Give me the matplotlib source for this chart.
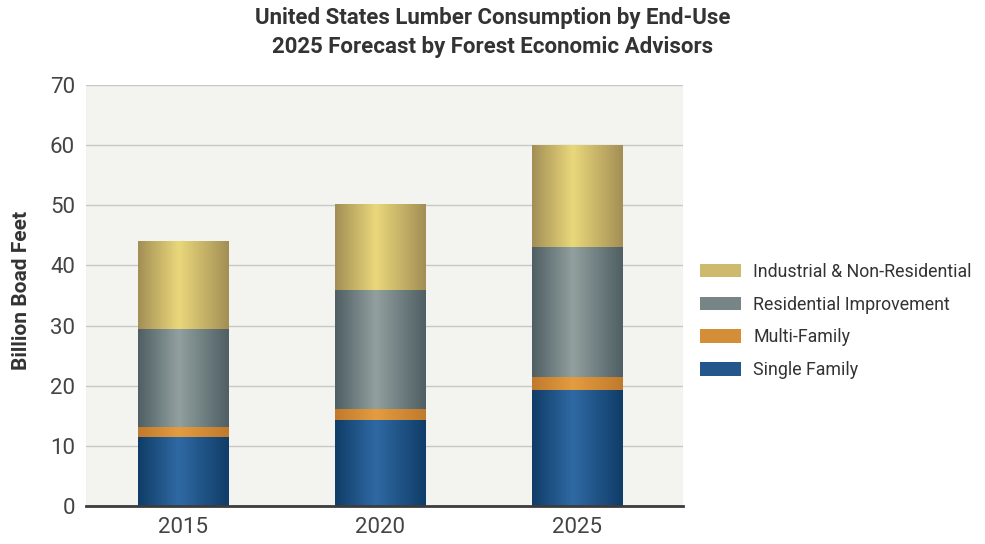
import numpy as np
import matplotlib.pyplot as plt
from matplotlib.colors import LinearSegmentedColormap
from matplotlib.patches import Patch

plt.rcParams['font.family'] = ['Roboto', 'DejaVu Sans']

years = ['2015', '2020', '2025']
single_family = [11.5, 14.3, 19.3]
multi_family = [1.7, 1.8, 2.2]
residential_improvement = [16.3, 19.8, 21.6]
industrial = [14.6, 14.3, 16.9]

series = [
    ('Single Family', single_family, ('#103d68', '#2f69a3')),
    ('Multi-Family', multi_family, ('#c07a2c', '#e39c40')),
    ('Residential Improvement', residential_improvement, ('#4f5f63', '#919f9e')),
    ('Industrial & Non-Residential', industrial, ('#a38f55', '#e9d77b')),
]

fig = plt.figure(figsize=(9.85, 5.44), dpi=100)
ax = fig.add_axes([86 / 985, 1 - 506 / 544, 597 / 985, 421 / 544])
ax.set_facecolor('#f3f3ef')

x = np.arange(len(years))
width = 0.457
# horizontal shading: dark edges, light band a bit left of centre
grad = np.concatenate([np.linspace(0, 1, 45), np.linspace(1, 0, 55)])[None, :]

bottom = np.zeros(len(years))
handles = []
for name, vals, (dark, light) in series:
    cmap = LinearSegmentedColormap.from_list(name, [dark, light])
    bars = ax.bar(x, vals, width, bottom=bottom, color='none', edgecolor='none', zorder=3)
    for b in bars:
        x0, y0 = b.get_x(), b.get_y()
        im = ax.imshow(grad, cmap=cmap, aspect='auto', zorder=3,
                       extent=[x0, x0 + b.get_width(), y0, y0 + b.get_height()])
        im.set_clip_path(b)
    bottom += np.array(vals)
    handles.append(Patch(facecolor=cmap(0.6), label=name))

ax.set_xlim(-0.49, 2.54)
ax.set_ylim(0, 70)
ax.set_yticks(range(0, 71, 10))
ax.set_xticks(x)
ax.set_xticklabels(years)
ax.grid(axis='y', color='#c8c8c4', linewidth=1, zorder=0)
ax.set_axisbelow(True)
ax.tick_params(length=0, labelsize=16, labelcolor='#444444')
ax.tick_params(axis='y', pad=8)
ax.tick_params(axis='x', pad=8)
for s in ['top', 'right', 'left']:
    ax.spines[s].set_visible(False)
ax.spines['bottom'].set_color('#3c3c3c')
ax.spines['bottom'].set_linewidth(2)
ax.spines['bottom'].set_zorder(4)

fig.text(0.022, 1 - 290 / 544, 'Billion Boad Feet', rotation=90, ha='center', va='center',
         fontsize=15, fontweight='bold', color='#333333')

fig.text(0.5, 1 - 18 / 544, 'United States Lumber Consumption by End-Use', ha='center', va='center',
         fontsize=16, fontweight='bold', color='#333333')
fig.text(0.5, 1 - 47 / 544, '2025 Forecast by Forest Economic Advisors', ha='center', va='center',
         fontsize=16, fontweight='bold', color='#333333')

fig.legend(handles[::-1], [h.get_label() for h in handles[::-1]],
           loc='center left', bbox_to_anchor=(684 / 985, 1 - 321 / 544),
           frameon=False, fontsize=12.8, handlelength=2.3, handleheight=0.8,
           labelspacing=0.83, handletextpad=0.7, labelcolor='#333333')

fig.savefig('out.png', dpi=100)
